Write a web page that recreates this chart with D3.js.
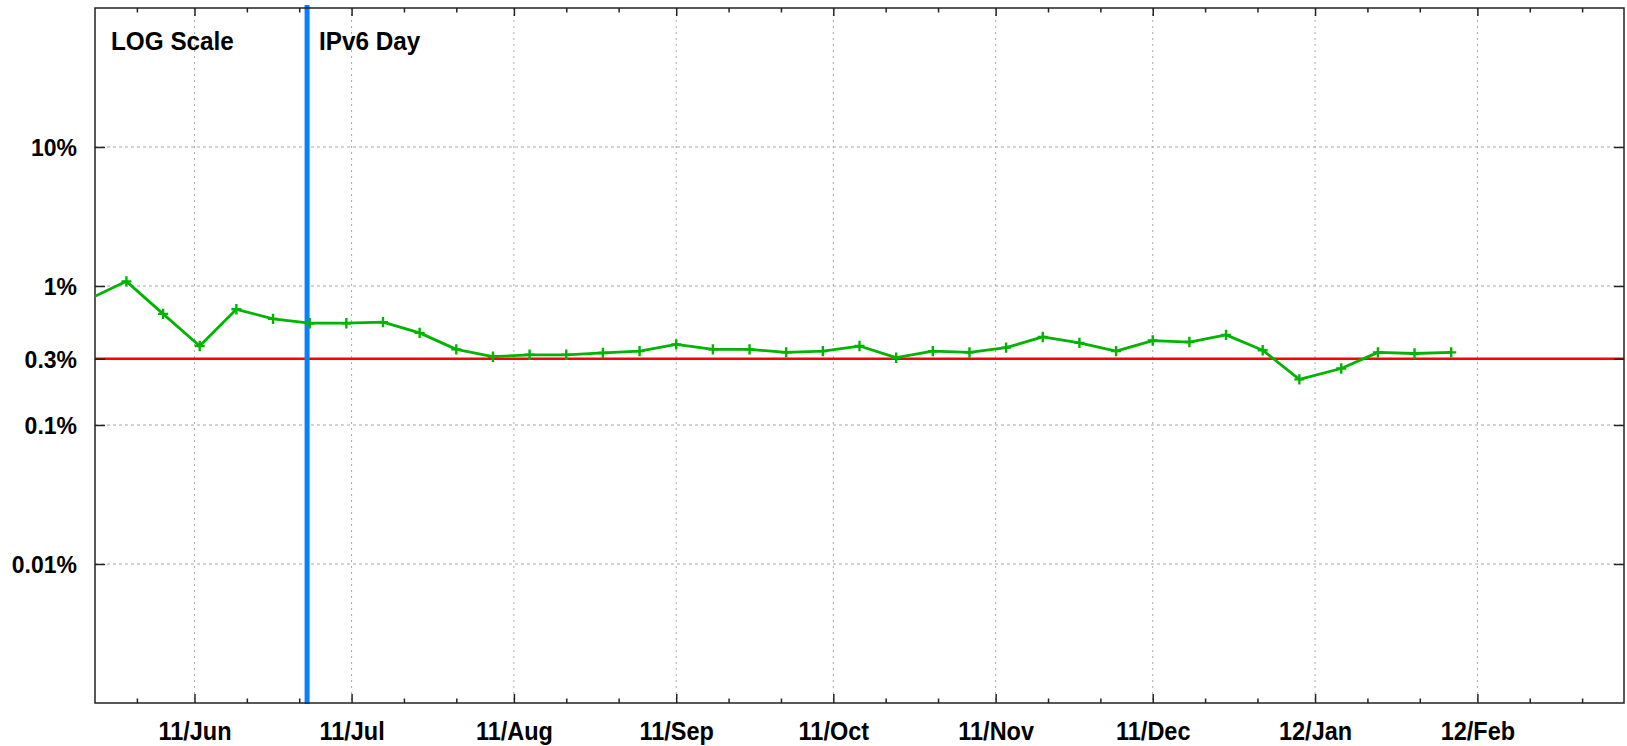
<!DOCTYPE html>
<html>
<head>
<meta charset="utf-8">
<script src="https://cdn.jsdelivr.net/npm/d3@7"></script>
<style>
  body { margin: 0; background: #fff; }
  svg { display: block; }
  text { font-family: "Liberation Sans", Arial, sans-serif; font-weight: bold; fill: #000; }
</style>
</head>
<body>
<svg id="chart" width="1627" height="746"></svg>
<script>
// Weekly measurement dates and the measured rate (percent)
const weekDates = [
  "2011-05-12", "2011-05-19", "2011-05-26", "2011-06-02", "2011-06-09", "2011-06-16",
  "2011-06-23", "2011-06-30", "2011-07-07", "2011-07-14", "2011-07-21", "2011-07-28",
  "2011-08-04", "2011-08-11", "2011-08-18", "2011-08-25", "2011-09-01", "2011-09-08",
  "2011-09-15", "2011-09-22", "2011-09-29", "2011-10-06", "2011-10-13", "2011-10-20",
  "2011-10-27", "2011-11-03", "2011-11-10", "2011-11-17", "2011-11-24", "2011-12-01",
  "2011-12-08", "2011-12-15", "2011-12-22", "2011-12-29", "2012-01-06", "2012-01-13",
  "2012-01-20", "2012-01-27"
];
const ratePercent = [
  0.81, 1.08, 0.63, 0.37, 0.68, 0.58,
  0.54, 0.54, 0.55, 0.46, 0.35, 0.31,
  0.32, 0.32, 0.33, 0.34, 0.38, 0.35,
  0.35, 0.333, 0.34, 0.37, 0.305, 0.34,
  0.333, 0.36, 0.43, 0.39, 0.34, 0.405,
  0.395, 0.445, 0.345, 0.213, 0.255, 0.333,
  0.327, 0.333
];

// Axis settings
const xDomain = ["2011-05-13", "2012-02-29"];
const yDomain = [0.001, 100];
const yTickValues = [10, 1, 0.3, 0.1, 0.01];
const yGridValues = [10, 1, 0.1, 0.01];
const referenceLevels = [0.3];

// Annotations
const eventDates = ["2011-06-22T12:00Z"];
const eventLabels = ["IPv6 Day"];
const scaleNote = ["LOG Scale"];

const width = 1627, height = 746;
const margin = { top: 8, right: 3, bottom: 43, left: 95 };
const x0 = margin.left, x1 = width - margin.right;
const y0 = margin.top, y1 = height - margin.bottom;
const textStretch = 1.08;   // labels are drawn slightly tall

const svg = d3.select("#chart");
svg.append("rect").attr("width", width).attr("height", height).attr("fill", "#fff");

const x = d3.scaleUtc()
  .domain(xDomain.map(d => d3.isoParse(d)))
  .range([x0, x1]);
const y = d3.scaleLog()
  .domain(yDomain)
  .range([y1, y0]);

const series = weekDates.map((d, i) => ({ date: d3.isoParse(d), value: ratePercent[i] }));

const [dStart, dEnd] = x.domain();
const majorTicks = d3.utcMonth.range(d3.utcMonth.ceil(dStart), dEnd);
const minorTicks = [];
d3.utcMonth.range(d3.utcMonth.floor(dStart), dEnd).forEach(m => {
  [10, 20].forEach(k => {
    const t = d3.utcDay.offset(m, k);
    if (t >= dStart && t <= dEnd) minorTicks.push(t);
  });
});

svg.append("defs").append("clipPath").attr("id", "plotClip")
  .append("rect").attr("x", x0).attr("y", y0).attr("width", x1 - x0).attr("height", y1 - y0);

// Grid
const grid = svg.append("g").attr("class", "grid");
grid.selectAll("line.vg").data(majorTicks).join("line")
  .attr("x1", d => x(d)).attr("x2", d => x(d))
  .attr("y1", y0).attr("y2", y1)
  .attr("stroke", "#a8a8a8").attr("stroke-width", 1).attr("stroke-dasharray", "2,4");
grid.selectAll("line.hg").data(yGridValues).join("line")
  .attr("x1", x0).attr("x2", x1)
  .attr("y1", d => y(d)).attr("y2", d => y(d))
  .attr("stroke", "#a8a8a8").attr("stroke-width", 1).attr("stroke-dasharray", "3,3");

// Reference level
svg.append("g").selectAll("line").data(referenceLevels).join("line")
  .attr("x1", x0).attr("x2", x1)
  .attr("y1", d => y(d)).attr("y2", d => y(d))
  .attr("stroke", "#ff0000").attr("stroke-width", 2.6);

// Event marker
const ev = svg.append("g");
ev.selectAll("line").data(eventDates).join("line")
  .attr("x1", d => x(d3.isoParse(d))).attr("x2", d => x(d3.isoParse(d)))
  .attr("y1", y0 - 3).attr("y2", y1 + 1)
  .attr("stroke", "#0a80ff").attr("stroke-width", 5);

// Axes frame and ticks
function styleAxis(g) {
  g.select(".domain").remove();
  g.selectAll(".tick line").attr("stroke", "#222").attr("stroke-width", 1.5);
  g.selectAll("text").attr("font-family", "Liberation Sans, Arial, sans-serif")
    .attr("font-weight", "bold").attr("fill", "#000");
}

svg.append("g").attr("transform", `translate(0,${y1})`)
  .call(d3.axisBottom(x).tickValues(majorTicks).tickSize(-9)
    .tickFormat(d3.utcFormat("%y/%b")))
  .call(styleAxis)
  .call(g => g.selectAll(".tick text")
    .attr("font-size", 23.5).attr("y", 0).attr("dy", null)
    .attr("transform", `translate(0,37) scale(1,${textStretch})`));
svg.append("g").attr("transform", `translate(0,${y1})`)
  .call(d3.axisBottom(x).tickValues(minorTicks).tickSize(-4.5).tickFormat(""))
  .call(styleAxis);
svg.append("g").attr("transform", `translate(0,${y0})`)
  .call(d3.axisTop(x).tickValues(majorTicks).tickSize(-8).tickFormat(""))
  .call(styleAxis);
svg.append("g").attr("transform", `translate(0,${y0})`)
  .call(d3.axisTop(x).tickValues(minorTicks).tickSize(-4.5).tickFormat(""))
  .call(styleAxis);
svg.append("g").attr("transform", `translate(${x0},0)`)
  .call(d3.axisLeft(y).tickValues(yTickValues).tickSize(-10)
    .tickFormat(d => d + "%"))
  .call(styleAxis)
  .call(g => g.selectAll(".tick text")
    .attr("font-size", 23).attr("x", 0).attr("y", 0).attr("dy", null)
    .attr("transform", `translate(-18,8.9) scale(1,${textStretch})`));
svg.append("g").attr("transform", `translate(${x1},0)`)
  .call(d3.axisRight(y).tickValues(yTickValues).tickSize(-10).tickFormat(""))
  .call(styleAxis);

svg.append("rect")
  .attr("x", x0).attr("y", y0).attr("width", x1 - x0).attr("height", y1 - y0)
  .attr("fill", "none").attr("stroke", "#222").attr("stroke-width", 1.5);

// Series line with plus markers
const plot = svg.append("g").attr("clip-path", "url(#plotClip)");
const line = d3.line().x(d => x(d.date)).y(d => y(d.value));
plot.append("path").datum(series)
  .attr("d", line).attr("fill", "none")
  .attr("stroke", "#00b400").attr("stroke-width", 2.8).attr("stroke-linejoin", "round");
plot.selectAll("path.pt").data(series).join("path")
  .attr("class", "pt")
  .attr("transform", d => `translate(${x(d.date)},${y(d.value)})`)
  .attr("d", "M-5,0H5M0,-5.2V5.2")
  .attr("stroke", "#00b400").attr("stroke-width", 2.4).attr("fill", "none");

// Text annotations
svg.append("g").selectAll("text").data(scaleNote).join("text")
  .attr("transform", `translate(${x0 + 16},50) scale(1,${textStretch})`)
  .attr("font-size", 24.3).text(d => d);
ev.selectAll("text").data(eventDates).join("text")
  .attr("transform", d => `translate(${x(d3.isoParse(d)) + 12},50) scale(1,${textStretch})`)
  .attr("font-size", 24.3).text((d, i) => eventLabels[i]);
</script>
</body>
</html>
